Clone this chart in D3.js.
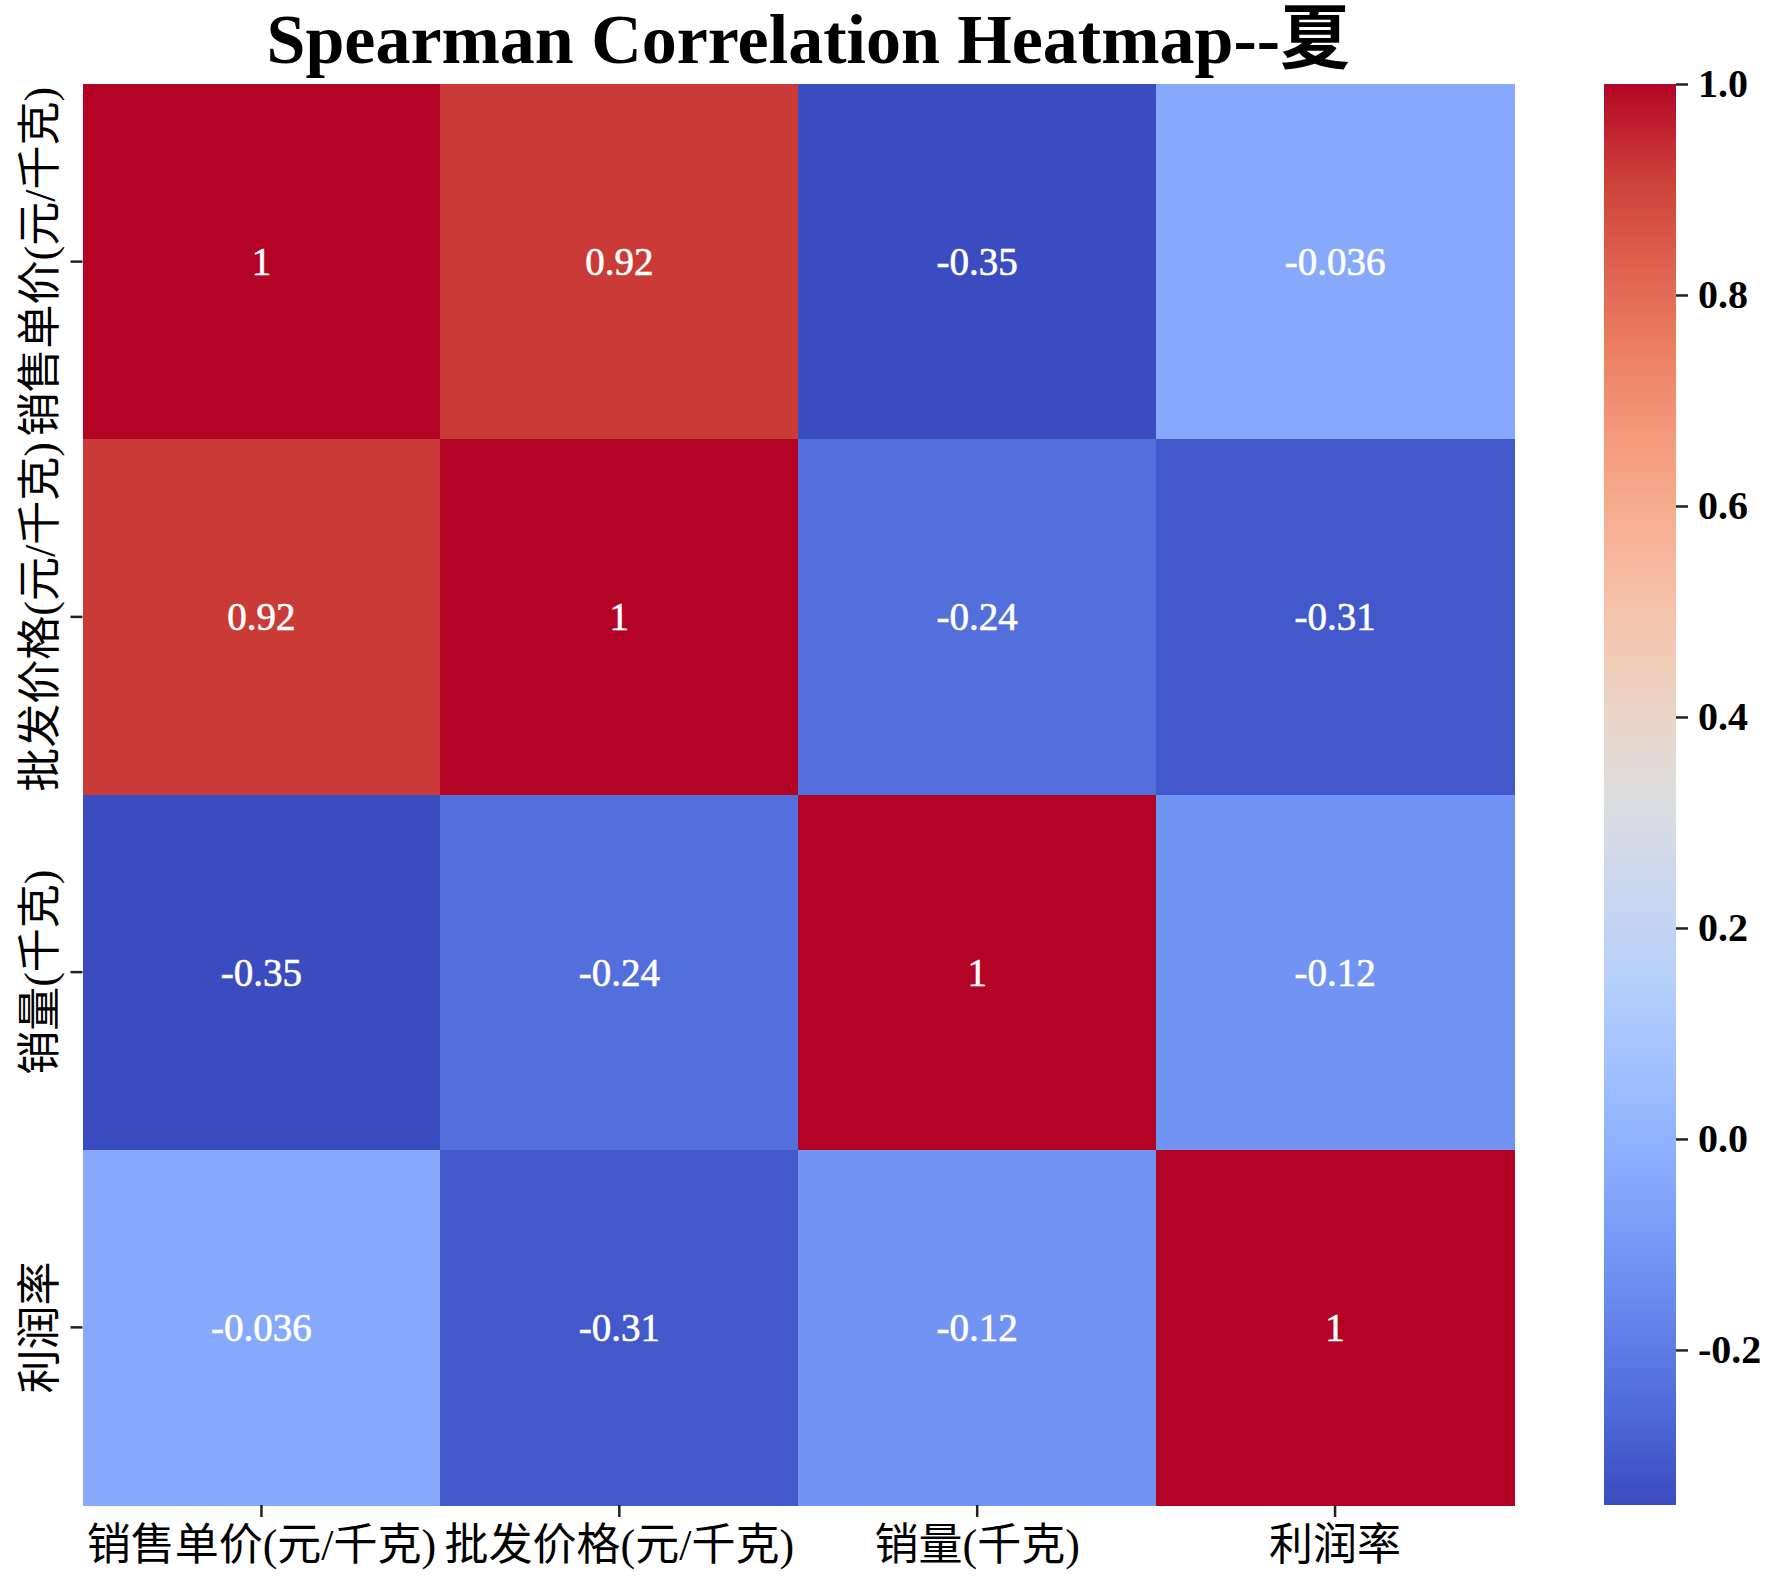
<!DOCTYPE html>
<html>
<head>
<meta charset="utf-8">
<script src="https://cdn.jsdelivr.net/npm/d3@7"></script>
<style>
  body { margin: 0; background: #fff; }
  svg { display: block; }
</style>
</head>
<body>
<div id="chart"></div>
<script>
const LABELS = ['销售单价(元/千克)', '批发价格(元/千克)', '销量(千克)', '利润率'];

const ROW_PRICE = [1, 0.92, -0.347, -0.036];
const ROW_WHOLESALE = [0.92, 1, -0.24, -0.31];
const ROW_VOLUME = [-0.347, -0.24, 1, -0.12];
const ROW_MARGIN = [-0.036, -0.31, -0.12, 1];
const MATRIX = [ROW_PRICE, ROW_WHOLESALE, ROW_VOLUME, ROW_MARGIN];

const CBAR_TICKS = [-0.2, 0.0, 0.2, 0.4, 0.6, 0.8, 1.0];

// matplotlib coolwarm, sampled every 1/16
const COOLWARM = ['#3b4cc0', '#4d68d7', '#6282ea', '#779af7', '#8db0fe', '#a3c2fe',
  '#b8d0f9', '#cbd8ee', '#dddddd', '#ecd3c5', '#f5c4ad', '#f7b194', '#f49a7b',
  '#ec7f63', '#de604d', '#cb3e38', '#b40426'];

const W = 1772, H = 1579;
const plot = { left: 82.5, right: 1514, top: 84, bottom: 1505 };
const cbar = { left: 1604, right: 1676 };
const SERIF = "'Liberation Serif', 'Times New Roman', 'Noto Sans CJK SC', serif";
const LABEL_FONT = "'Liberation Serif', 'Noto Sans CJK SC', serif";

const locale = d3.formatLocale({ decimal: '.', thousands: ',', grouping: [3], currency: ['', ''], minus: '-' });
const annotFmt = locale.format('.2~g');
const tickFmt = locale.format('.1f');

const vmin = d3.min(MATRIX.flat());
const vmax = d3.max(MATRIX.flat());
const norm = d3.scaleLinear().domain([vmin, vmax]).range([0, 1]).clamp(true);
const cmap = d3.scaleLinear()
  .domain(COOLWARM.map((c, i) => i / (COOLWARM.length - 1)))
  .range(COOLWARM)
  .interpolate(d3.interpolateRgb);

const svg = d3.select('#chart').append('svg')
  .attr('width', W).attr('height', H);

const x = d3.scaleBand().domain(d3.range(LABELS.length)).range([plot.left, plot.right]);
const y = d3.scaleBand().domain(d3.range(LABELS.length)).range([plot.top, plot.bottom]);

const cells = MATRIX.flatMap((row, i) => row.map((v, j) => ({ i, j, v })));

svg.append('g').selectAll('rect').data(cells).enter().append('rect')
  .attr('x', d => x(d.j)).attr('y', d => y(d.i))
  .attr('width', x.bandwidth() + 0.5).attr('height', y.bandwidth() + 0.5)
  .attr('fill', d => cmap(norm(d.v)))
  .attr('shape-rendering', 'crispEdges');

// annotations
svg.append('g')
  .attr('font-family', SERIF).attr('font-size', 39)
  .attr('text-anchor', 'middle').attr('dominant-baseline', 'central')
  .selectAll('text').data(cells).enter().append('text')
  .attr('x', d => x(d.j) + x.bandwidth() / 2)
  .attr('y', d => y(d.i) + y.bandwidth() / 2)
  .attr('fill', '#fff')
  .attr('stroke', '#fff').attr('stroke-width', 0.6)
  .text(d => annotFmt(d.v));

// axes
const xAxis = svg.append('g')
  .attr('transform', `translate(0,${plot.bottom})`)
  .call(d3.axisBottom(x).tickSize(12).tickFormat(i => LABELS[i]));
xAxis.select('.domain').remove();
xAxis.selectAll('line').attr('stroke', '#222').attr('stroke-width', 2.5);
xAxis.selectAll('text')
  .attr('font-family', LABEL_FONT).attr('font-size', 44).attr('fill', '#000')
  .attr('y', 40).attr('dy', null).attr('dominant-baseline', 'central');

const yAxis = svg.append('g')
  .attr('transform', `translate(${plot.left},0)`)
  .call(d3.axisLeft(y).tickSize(12).tickFormat(i => LABELS[i]));
yAxis.select('.domain').remove();
yAxis.selectAll('line').attr('stroke', '#222').attr('stroke-width', 2.5);
yAxis.selectAll('text')
  .attr('font-family', LABEL_FONT).attr('font-size', 44).attr('fill', '#000')
  .attr('x', null).attr('dy', null)
  .attr('text-anchor', 'middle').attr('dominant-baseline', 'central')
  .attr('transform', 'translate(-42,0) rotate(-90)');

// colorbar
const grad = svg.append('defs').append('linearGradient')
  .attr('id', 'cbar').attr('x1', 0).attr('y1', 1).attr('x2', 0).attr('y2', 0);
grad.selectAll('stop').data(COOLWARM).enter().append('stop')
  .attr('offset', (c, i) => i / (COOLWARM.length - 1))
  .attr('stop-color', c => c);

const cy = d3.scaleLinear().domain([vmin, vmax]).range([plot.bottom, plot.top]);
svg.append('rect')
  .attr('x', cbar.left).attr('y', plot.top)
  .attr('width', cbar.right - cbar.left).attr('height', plot.bottom - plot.top)
  .attr('fill', 'url(#cbar)');

const cAxis = svg.append('g')
  .attr('transform', `translate(${cbar.right},0)`)
  .call(d3.axisRight(cy).tickValues(CBAR_TICKS).tickSize(12).tickPadding(10).tickFormat(tickFmt));
cAxis.select('.domain').remove();
cAxis.selectAll('line').attr('stroke', '#222').attr('stroke-width', 2.5);
cAxis.selectAll('text')
  .attr('font-family', SERIF).attr('font-size', 40).attr('font-weight', 'bold').attr('fill', '#000');

// title
svg.append('text')
  .attr('x', (plot.left + plot.right) / 2 + 10).attr('y', 63)
  .attr('text-anchor', 'middle')
  .attr('font-family', SERIF).attr('font-size', 70).attr('font-weight', 'bold')
  .text('Spearman Correlation Heatmap--夏');
</script>
</body>
</html>
